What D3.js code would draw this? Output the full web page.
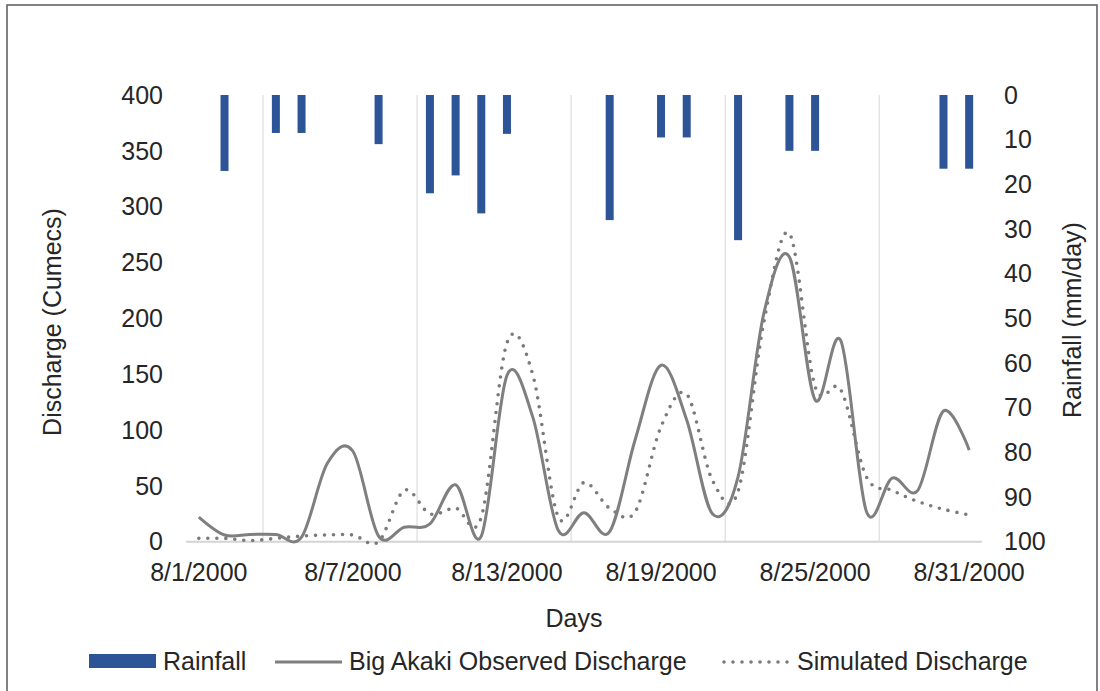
<!DOCTYPE html>
<html>
<head>
  <meta charset='utf-8'>
  <title>Discharge and rainfall</title>
  <style type='text/css'>
body{
  margin:0;
  background:#fff;
}
text{
  font-family: 'Liberation Sans', Arial, sans-serif;
  fill:#262626;
}
  </style>
</head>
<body>
<div id='chartContainer'></div>
<script src='https://d3js.org/d3.v7.min.js'></script>
<script type='text/javascript'>

// days of August 2000
var days = ['8/1/2000','8/2/2000','8/3/2000','8/4/2000','8/5/2000','8/6/2000','8/7/2000','8/8/2000',
            '8/9/2000','8/10/2000','8/11/2000','8/12/2000','8/13/2000','8/14/2000','8/15/2000','8/16/2000',
            '8/17/2000','8/18/2000','8/19/2000','8/20/2000','8/21/2000','8/22/2000','8/23/2000','8/24/2000',
            '8/25/2000','8/26/2000','8/27/2000','8/28/2000','8/29/2000','8/30/2000','8/31/2000'];
var tickDays = ['8/1/2000','8/7/2000','8/13/2000','8/19/2000','8/25/2000','8/31/2000'];
var gridDays = ['8/4/2000','8/10/2000','8/16/2000','8/22/2000','8/28/2000'];

var rainfall  = [0,17,0,8.5,8.5,0,0,11,0,22,18,26.5,8.7,0,0,0,
                 28,0,9.5,9.5,0,32.5,0,12.5,12.5,0,0,0,0,16.5,16.5];
var observed  = [22,6,6.5,6.5,4,70,81,5,13,16,51,5,149,112,10,26,
                 9,92,158,109,25,58,204,255,127,180,27,57,46,117,82];
var simulated = [3,3,1,3,5,6,6,0,46,25,30,22,178,150,22,53,
                 30,27,103,132,55,45,196,276,139,136,58,46,36,29,24];

var leftTicks = [0,50,100,150,200,250,300,350,400];
var rightTicks = [0,10,20,30,40,50,60,70,80,90,100];

var W = 1100, H = 691;
var svg = d3.select('#chartContainer').append('svg')
    .attr('width', W).attr('height', H);

// outer frame
svg.append('rect')
    .attr('x', 7).attr('y', 5).attr('width', 1090).attr('height', 700)
    .attr('fill', 'none').attr('stroke', '#595959').attr('stroke-width', 1.5);

var x = d3.scaleBand().domain(days).range([186, 982]).padding(0);
var bw = x.bandwidth();
var cx = function(d){ return x(d) + bw / 2; };
var y = d3.scaleLinear().domain([0, 400]).range([541.7, 95]);
var yR = d3.scaleLinear().domain([0, 100]).range([95, 541.7]);

// vertical gridlines
svg.selectAll('.grid').data(gridDays).enter().append('line')
    .attr('x1', function(d){ return x(d); }).attr('x2', function(d){ return x(d); })
    .attr('y1', 95).attr('y2', 541.7)
    .attr('stroke', '#e4e4e4').attr('stroke-width', 1.5);

// bottom axis line
svg.append('line')
    .attr('x1', 186).attr('x2', 982).attr('y1', 541.7).attr('y2', 541.7)
    .attr('stroke', '#d4d4d4').attr('stroke-width', 2);

// rainfall bars hanging from the top
svg.selectAll('.bar').data(days.map(function(d, i){ return {day: d, v: rainfall[i]}; })
      .filter(function(d){ return d.v > 0; }))
  .enter().append('rect')
    .attr('x', function(d){ return cx(d.day) - 4; })
    .attr('y', yR(0))
    .attr('width', 8)
    .attr('height', function(d){ return yR(d.v) - yR(0); })
    .attr('fill', '#2c5496');

var line = d3.line()
    .x(function(d, i){ return cx(days[i]); })
    .y(function(d){ return y(d); })
    .curve(d3.curveCardinal.tension(0));

svg.append('path').datum(simulated)
    .attr('d', line)
    .attr('fill', 'none').attr('stroke', '#7a7a7a').attr('stroke-width', 3.6)
    .attr('stroke-linecap', 'round').attr('stroke-dasharray', '0 9');

svg.append('path').datum(observed)
    .attr('d', line)
    .attr('fill', 'none').attr('stroke', '#7f7f7f').attr('stroke-width', 3);

// left axis labels
svg.selectAll('.lt').data(leftTicks).enter().append('text')
    .attr('x', 163).attr('y', function(d){ return y(d); })
    .attr('dy', '0.35em')
    .style('text-anchor', 'end').style('font-size', '25px')
    .text(function(d){ return d; });

// right axis labels
svg.selectAll('.rt').data(rightTicks).enter().append('text')
    .attr('x', 1004).attr('y', function(d){ return yR(d); })
    .attr('dy', '0.35em')
    .style('text-anchor', 'start').style('font-size', '25px')
    .text(function(d){ return d; });

// x labels
svg.selectAll('.xt').data(tickDays).enter().append('text')
    .attr('x', function(d){ return cx(d); }).attr('y', 581)
    .style('text-anchor', 'middle').style('font-size', '25px')
    .text(function(d){ return d; });

// axis titles
svg.append('text')
    .attr('transform', 'translate(52,322) rotate(-90)')
    .attr('dy', '0.35em')
    .style('text-anchor', 'middle').style('font-size', '25px')
    .text('Discharge (Cumecs)');

svg.append('text')
    .attr('transform', 'translate(1072,320) rotate(-90)')
    .attr('dy', '0.35em')
    .style('text-anchor', 'middle').style('font-size', '25px')
    .text('Rainfall (mm/day)');

svg.append('text')
    .attr('x', 574).attr('y', 627)
    .style('text-anchor', 'middle').style('font-size', '25px')
    .text('Days');

// legend
var lg = svg.append('g');
lg.append('rect').attr('x', 89).attr('y', 654).attr('width', 67).attr('height', 14).attr('fill', '#2c5496');
lg.append('text').attr('x', 163).attr('y', 670).style('font-size', '25px').text('Rainfall');
lg.append('line').attr('x1', 275).attr('x2', 342).attr('y1', 662).attr('y2', 662)
    .attr('stroke', '#7f7f7f').attr('stroke-width', 3);
lg.append('text').attr('x', 349).attr('y', 670).style('font-size', '25px').text('Big Akaki Observed Discharge');
lg.append('line').attr('x1', 724).attr('x2', 790).attr('y1', 662).attr('y2', 662)
    .attr('stroke', '#7a7a7a').attr('stroke-width', 3.6)
    .attr('stroke-linecap', 'round').attr('stroke-dasharray', '0 9');
lg.append('text').attr('x', 797).attr('y', 670).style('font-size', '25px').text('Simulated Discharge');

</script>
</body>
</html>
